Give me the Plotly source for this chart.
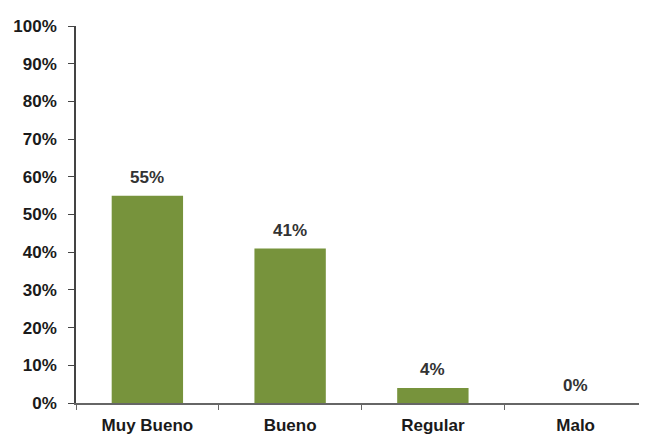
import plotly.graph_objects as go

categories = ["Muy Bueno", "Bueno", "Regular", "Malo"]
values = [55, 41, 4, 0]
labels = ["55%", "41%", "4%", "0%"]

FONT = "Liberation Sans, Arial"

fig = go.Figure(go.Bar(
    x=categories, y=values,
    marker=dict(color="#77933C", line=dict(width=0)),
    width=0.5,
))
for c, v, t in zip(categories, values, labels):
    fig.add_annotation(x=c, y=v, text=t, showarrow=False, yanchor="middle",
                       yshift=18,
                       font=dict(family=FONT, size=17, color="#333333", weight="bold"))

# page body has an 8px margin; size the figure so it fits the 647x435 window
fig.update_layout(
    width=639, height=427,
    margin=dict(l=68, r=0, t=18, b=32),
    paper_bgcolor="white", plot_bgcolor="white",
    font=dict(family=FONT, size=17, color="#1a1a1a"),
    showlegend=False,
)
fig.update_yaxes(
    range=[0, 100], dtick=10, ticksuffix="%", showgrid=False, zeroline=False,
    showline=True, linecolor="#444444", linewidth=1.5,
    ticks="outside", ticklen=6, tickcolor="#444444", ticklabelstandoff=8,
    tickfont=dict(family=FONT, size=17, color="#1a1a1a", weight="bold"),
)
fig.update_xaxes(
    showgrid=False, showline=True, linecolor="#666666", linewidth=1.5,
    ticks="outside", ticklen=5, tickcolor="#666666", tickson="boundaries",
    ticklabelstandoff=6,
    tickfont=dict(family=FONT, size=17, color="#1a1a1a", weight="bold"),
)
fig.write_html("out.html")
